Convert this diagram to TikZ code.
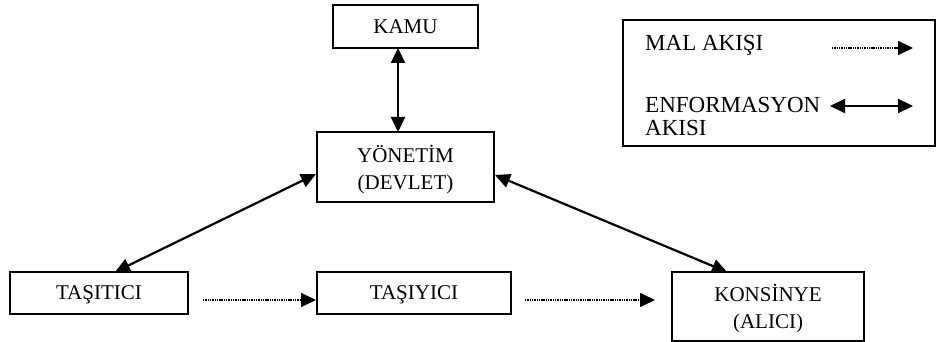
\documentclass[tikz,border=0pt]{standalone}
\usepackage{fontspec}
\setmainfont{Liberation Serif}
\usetikzlibrary{arrows.meta}
\begin{document}
\begin{tikzpicture}[x=1pt,y=1pt,
  box/.style={draw,line width=2.2pt,inner sep=0pt,outer sep=0pt,align=center,
    text depth=0pt,font=\fontsize{21}{27}\selectfont},
  info/.style={line width=2.2pt,{Triangle[length=15pt,width=14pt]}-{Triangle[length=15pt,width=14pt]}},
  goods/.style={line width=1.7pt,dash pattern=on 1.4pt off 0.9pt,-{Triangle[length=15pt,width=14pt]}},
  txt/.style={inner sep=0pt,anchor=west,font=\fontsize{23}{23}\selectfont}]
\useasboundingbox (0,0) rectangle (937,342);
\node[box,minimum width=145,minimum height=43] (kamu) at (405.5,315.5) {KAMU};
\node[box,minimum width=177,minimum height=70] (yonetim) at (405.5,175) {YÖNETİM\\(DEVLET)};
\node[box,minimum width=178,minimum height=42] (tasitici) at (99,49) {TAŞITICI};
\node[box,minimum width=194,minimum height=42] (tasiyici) at (414,49) {TAŞIYICI};
\node[box,minimum width=192,minimum height=69] (konsinye) at (768,35.5) {KONSİNYE\\(ALICI)};
\node[box,minimum width=312,minimum height=126] (legend) at (779,259) {};
\node[txt] (mal) at (645,297) {MAL AKIŞI};
\node[txt,align=left] (enf) at (645,225) {ENFORMASYON\\AKISI};
% coordinates
\coordinate (k1) at (398,294);
\coordinate (y1) at (398,210);
\coordinate (yl) at (316,168);
\coordinate (yr) at (495,167);
\coordinate (tl) at (115,70);
\coordinate (kr) at (727,70);
\coordinate (d1a) at (203,42);
\coordinate (d1b) at (316,42);
\coordinate (d2a) at (525,42);
\coordinate (d2b) at (655,42);
\coordinate (la) at (832,294);
\coordinate (lb) at (913,294);
\coordinate (lc) at (830,236);
\coordinate (ld) at (913,236);
\draw[info] (k1) -- (y1);
\draw[info] (tl) -- (yl);
\draw[info] (yr) -- (kr);
\draw[goods] (d1a) -- (d1b);
\draw[goods] (d2a) -- (d2b);
\draw[goods] (la) -- (lb);
\draw[info] (lc) -- (ld);
\end{tikzpicture}
\end{document}
